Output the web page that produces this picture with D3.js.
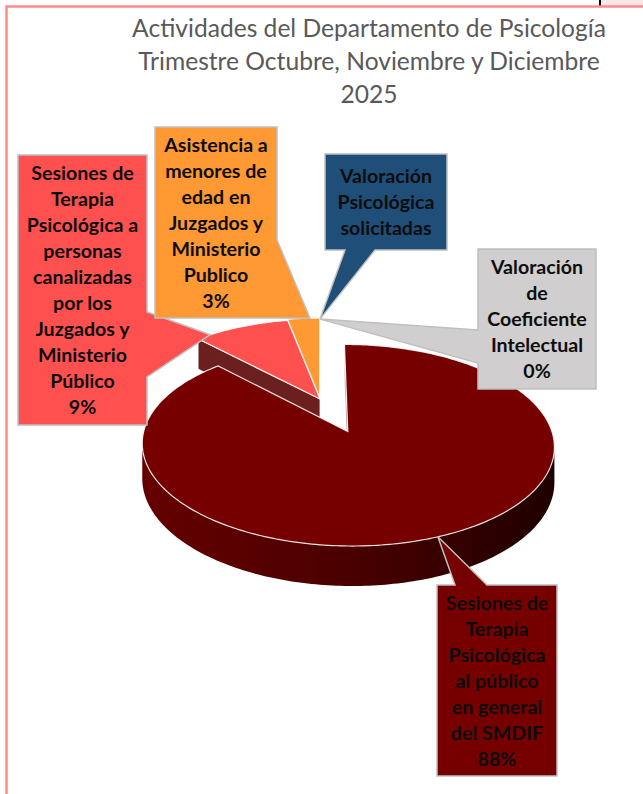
<!DOCTYPE html>
<html>
<head>
<meta charset="utf-8">
<script src="https://cdn.jsdelivr.net/npm/d3@7"></script>
<style>
  body { margin: 0; background: #fff; }
  svg { display: block; }
</style>
</head>
<body>
<div id="chart-area"></div>
<script>
/*
*    pie3d.js
*/

// data
var categories = [
  "Sesiones de Terapia Psicológica al público en general del SMDIF",
  "Sesiones de Terapia Psicológica a personas canalizadas por los Juzgados y Ministerio Público",
  "Asistencia a menores de edad en Juzgados y Ministerio Publico",
  "Valoración Psicológica solicitadas",
  "Valoración de Coeficiente Intelectual"
];
var values = [88, 9, 3, 0, 0];
var colors = ["#760000", "#ff5050", "#ff9933", "#1f4e79", "#d0cece"];
var wallColors = ["#5a0000", "#6b1f1f", "#5a3815", "#163a5c", "#9a9a9a"];
var labelLines = [
  ["Sesiones de", "Terapia", "Psicológica", "al público", "en general", "del SMDIF", "88%"],
  ["Sesiones de", "Terapia", "Psicológica a", "personas", "canalizadas", "por los", "Juzgados y", "Ministerio", "Público", "9%"],
  ["Asistencia a", "menores de", "edad en", "Juzgados y", "Ministerio", "Publico", "3%"],
  ["Valoración", "Psicológica", "solicitadas"],
  ["Valoración", "de", "Coeficiente", "Intelectual", "0%"]
];
var titleLines = [
  "Actividades del Departamento de Psicología",
  "Trimestre Octubre, Noviembre y Diciembre",
  "2025"
];

// layout
var width = 643, height = 794;
var cx = 320, cy = 399, R = 195;   // centre of the pie, radius
var k = 0.463, q = 0.13, depth = 33; // tilt, perspective, thickness
var explode = [0.37, 0, 0.015, 0, 0];

// callout boxes: box = [x0, y0, x1, y1], wedge side + base, anchor on slice
var callouts = [
  {box: [437, 585, 557, 776], side: "top",    base: [455, 487], at: 0.5,  r: 1.0},
  {box: [18, 155, 147, 425],  side: "right",  base: [312, 377], at: 0.15, r: 1.0},
  {box: [155, 127, 277, 318], side: "right",  base: [240, 318], at: 0.7,  r: 1.0},
  {box: [325, 154, 447, 250], side: "bottom", base: [345, 375], at: 0,    r: 1.0},
  {box: [478, 249, 596, 389], side: "left",   base: [330, 363], at: 0,    r: 1.0}
];

var svg = d3.select("#chart-area")
  .append("svg")
    .attr("width", width)
    .attr("height", height);

var defs = svg.append("defs");
var grad = defs.append("linearGradient")
  .attr("id", "sideGrad")
  .attr("gradientUnits", "userSpaceOnUse")
  .attr("x1", 140).attr("x2", 560).attr("y1", 0).attr("y2", 0);
grad.append("stop").attr("offset", "0%").attr("stop-color", "#660000");
grad.append("stop").attr("offset", "50%").attr("stop-color", "#4a0000");
grad.append("stop").attr("offset", "100%").attr("stop-color", "#1e0000");

// page frame
svg.append("rect").attr("x", 601).attr("y", 0).attr("width", 42).attr("height", 6).attr("fill", "#fde6e6");
svg.append("line").attr("x1", 600).attr("x2", 600).attr("y1", 0).attr("y2", 6)
  .attr("stroke", "#000").attr("stroke-width", 2);
svg.append("path")
  .attr("d", "M6.5,794 L6.5,6.5 L643,6.5")
  .attr("fill", "none")
  .attr("stroke", "#ff8a8a")
  .attr("stroke-width", 2.5);

// title
svg.append("g").selectAll("text")
  .data(titleLines)
  .enter().append("text")
    .attr("x", 369)
    .attr("y", function(d, i) { return 37 + i * 33; })
    .attr("text-anchor", "middle")
    .attr("font-family", "Lato")
    .attr("font-size", "24.6px")
    .attr("fill", "#595959")
    .text(function(d) { return d; });

// projection of a point of the disc (u right, v towards the back, z down)
function pt(u, v, z) {
  var s = 1 / (1 + q * v / R);
  return [cx + u * s, cy - v * k * s + z * s];
}

var pie = d3.pie().sort(null).value(function(d) { return d; });
var arcs = pie(values);

arcs.forEach(function(d, i) {
  var mid = (d.startAngle + d.endAngle) / 2;
  var e = explode[i] * R;
  d.index = i;
  d.eu = e * Math.sin(mid);
  d.ev = e * Math.cos(mid);
  d.mid = mid;
  d.depthKey = d.ev + R * 0.6 * Math.cos(mid);
});

function rim(d, a, z, f) {
  f = f || 1;
  return pt(d.eu + R * f * Math.sin(a), d.ev + R * f * Math.cos(a), z);
}

function samples(d) {
  var n = Math.max(2, Math.ceil((d.endAngle - d.startAngle) / (Math.PI / 180)));
  return d3.range(n + 1).map(function(j) {
    return d.startAngle + (d.endAngle - d.startAngle) * j / n;
  });
}

var line = d3.line().curve(d3.curveLinearClosed);

function cross(a, b) { return a[0] * b[1] - a[1] * b[0]; }

function wallVisible(d, a) {
  var A = pt(d.eu, d.ev, 0), B = rim(d, a, 0), A2 = pt(d.eu, d.ev, depth);
  var C = rim(d, d.mid, 0, 0.5);
  var e = [B[0] - A[0], B[1] - A[1]];
  var c1 = cross(e, [C[0] - A[0], C[1] - A[1]]);
  var c2 = cross(e, [A2[0] - A[0], A2[1] - A[1]]);
  return c1 * c2 < 0;
}

// neighbours (skipping zero slices) for the walls
var live = arcs.filter(function(d) { return d.value > 0; });
function neighbour(d, step) {
  var j = live.indexOf(d);
  return live[(j + step + live.length) % live.length];
}

var pieG = svg.append("g");
var order = live.slice().sort(function(a, b) { return b.depthKey - a.depthKey; });

order.forEach(function(d) {
  var g = pieG.append("g");
  var i = d.index;

  // radial walls
  [[d.startAngle, -1], [d.endAngle, 1]].forEach(function(w) {
    var nb = neighbour(d, w[1]);
    if (nb === d || explode[nb.index] === explode[i]) return;
    if (!wallVisible(d, w[0])) return;
    g.append("path")
      .attr("d", line([pt(d.eu, d.ev, 0), rim(d, w[0], 0), rim(d, w[0], depth), pt(d.eu, d.ev, depth)]))
      .attr("fill", wallColors[i])
      .attr("stroke", "#fff")
      .attr("stroke-width", 0.8);
  });

  // outer side, only the parts that face the viewer
  var a = samples(d);
  var runs = [], cur = null;
  for (var j = 0; j < a.length - 1; j++) {
    var vis = rim(d, a[j + 1], 0)[0] < rim(d, a[j], 0)[0];
    if (vis) {
      if (!cur) { cur = [a[j]]; runs.push(cur); }
      cur.push(a[j + 1]);
    } else {
      cur = null;
    }
  }
  runs.forEach(function(run) {
    var top = run.map(function(t) { return rim(d, t, 0); });
    var bot = run.slice().reverse().map(function(t) { return rim(d, t, depth); });
    g.append("path")
      .attr("d", line(top.concat(bot)))
      .attr("fill", i === 0 ? "url(#sideGrad)" : wallColors[i]);
  });

  // top face
  var face = [pt(d.eu, d.ev, 0)].concat(a.map(function(t) { return rim(d, t, 0); }));
  g.append("path")
    .attr("d", line(face))
    .attr("fill", colors[i])
    .attr("stroke", "#fff")
    .attr("stroke-opacity", 0.85)
    .attr("stroke-width", 1.2);
});

// callouts
var fontSize = 19.6, lineH = 26;
var labelG = svg.append("g");

callouts.forEach(function(c, i) {
  var d = arcs[i];
  var ang = d.startAngle + (d.endAngle - d.startAngle) * c.at;
  var tip = rim(d, ang, 0, c.r);
  var x0 = c.box[0], y0 = c.box[1], x1 = c.box[2], y1 = c.box[3];
  var p = [[x0, y0]];
  if (c.side === "top") p.push([c.base[0], y0], tip, [c.base[1], y0]);
  p.push([x1, y0]);
  if (c.side === "right") p.push([x1, c.base[0]], tip, [x1, c.base[1]]);
  p.push([x1, y1]);
  if (c.side === "bottom") p.push([c.base[1], y1], tip, [c.base[0], y1]);
  p.push([x0, y1]);
  if (c.side === "left") p.push([x0, c.base[1]], tip, [x0, c.base[0]]);

  labelG.append("path")
    .attr("d", line(p))
    .attr("fill", colors[i])
    .attr("stroke", "#bfbfbf")
    .attr("stroke-width", 1.5)
    .attr("stroke-linejoin", "miter");

  var lines = labelLines[i];
  var first = (y0 + y1) / 2 - (lines.length - 1) * lineH / 2;
  labelG.append("g").selectAll("text")
    .data(lines)
    .enter().append("text")
      .attr("x", (x0 + x1) / 2)
      .attr("y", function(t, j) { return first + j * lineH + fontSize * 0.36; })
      .attr("text-anchor", "middle")
      .attr("font-family", "Lato")
      .attr("font-weight", "bold")
      .attr("font-size", fontSize + "px")
      .attr("fill", "#0d0d0d")
      .text(function(t) { return t; });
});
</script>
</body>
</html>
